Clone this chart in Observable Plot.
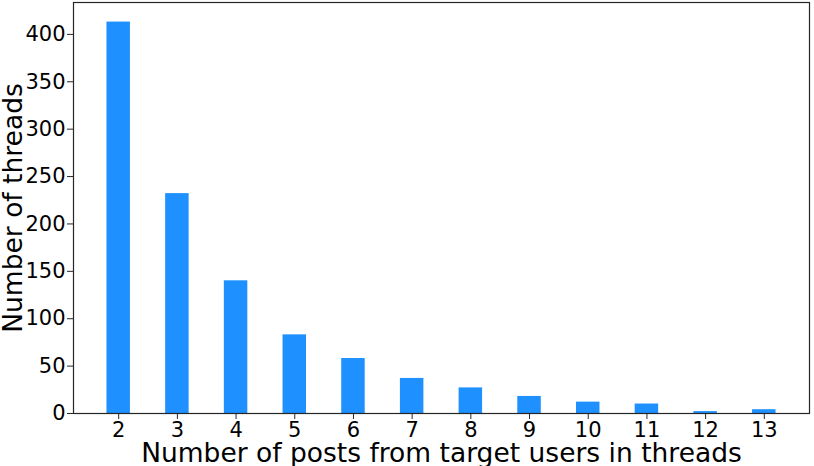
<!DOCTYPE html>
<html>
<head>
<meta charset="utf-8">
<script src="https://cdn.jsdelivr.net/npm/d3@7"></script>
<script src="https://cdn.jsdelivr.net/npm/@observablehq/plot@0.6"></script>
<style>
  html, body { margin: 0; padding: 0; background: #fff; }
  svg { display: block; }
</style>
</head>
<body>
<div id="chart"></div>
<script>
const posts = [2, 3, 4, 5, 6, 7, 8, 9, 10, 11, 12, 13];
const threads = [413, 232, 140, 83, 58, 37, 27, 18, 12, 10, 2, 4];
const yTicks = [0, 50, 100, 150, 200, 250, 300, 350, 400];
const xLabel = "Number of posts from target users in threads";
const yLabel = "Number of threads";

const data = posts.map((p, i) => ({p, n: threads[i]}));
const halfWidth = 0.2;
const xMin = posts[0] - halfWidth, xMax = posts[posts.length - 1] + halfWidth;
const xPad = (xMax - xMin) * 0.05;
const yMax = d3.max(threads) * 1.05;

const chart = Plot.plot({
  width: 814,
  height: 466,
  marginLeft: 73,
  marginRight: 5,
  marginTop: 2,
  marginBottom: 53,
  style: {fontFamily: "'DejaVu Sans', sans-serif", color: "#000", background: "#fff"},
  x: {domain: [xMin - xPad, xMax + xPad]},
  y: {domain: [0, yMax]},
  marks: [
    Plot.rectY(data, {x1: d => d.p - halfWidth, x2: d => d.p + halfWidth, y: "n", fill: "#1E90FF"}),
    Plot.frame({stroke: "#262626", strokeWidth: 1.2}),
    Plot.axisX({ticks: posts, tickSize: 6, tickPadding: 3, fontSize: 21, label: null, stroke: "#262626"}),
    Plot.axisY({ticks: yTicks, tickSize: 6, tickPadding: 2, fontSize: 21, label: null, stroke: "#262626"}),
    Plot.text([xLabel], {frameAnchor: "bottom", textAnchor: "middle", lineAnchor: "middle", dy: 40, fontSize: 26.5, fill: "#000"}),
    Plot.text([yLabel], {frameAnchor: "left", textAnchor: "middle", lineAnchor: "middle", rotate: -90, dx: -60, fontSize: 26.5, fill: "#000"})
  ]
});
document.getElementById("chart").appendChild(chart);
</script>
</body>
</html>
